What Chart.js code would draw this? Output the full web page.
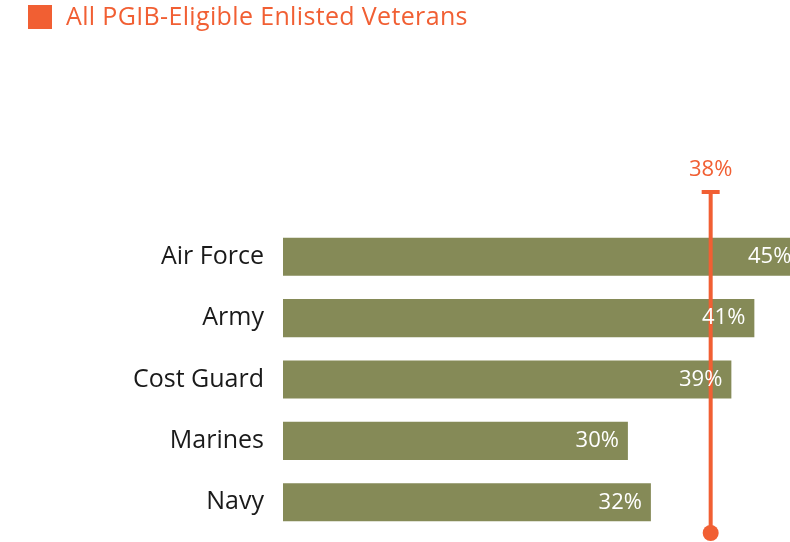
<!DOCTYPE html>
<html>
<head>
<meta charset="utf-8">
<script src="https://cdn.jsdelivr.net/npm/chart.js@4/dist/chart.umd.min.js"></script>
<style>
    html, body { margin: 0; padding: 0; background: #ffffff; }
    #wrap { width: 790px; height: 542px; }
</style>
</head>
<body>
<div id="wrap"><canvas id="branchChart" width="790" height="542"></canvas></div>
<script>
// --- Data ---
const branches = ['Air Force', 'Army', 'Cost Guard', 'Marines', 'Navy'];
const branchShares = [45, 41, 39, 30, 32];
const benchmarkPosition = [37.2];   // where the reference line sits on the axis
const benchmarkLabels = ['38%'];    // text printed above it
const seriesName = 'All PGIB-Eligible Enlisted Veterans';

const OLIVE = '#858a57';
const ORANGE = '#f15f33';
const FONT = '"Open Sans", Lato, sans-serif';

// Legend swatch + title in the top-left corner
const legendPlugin = {
    id: 'topLegend',
    afterDraw(chart) {
        const ctx = chart.ctx;
        ctx.save();
        ctx.fillStyle = ORANGE;
        ctx.fillRect(28, 5, 24, 24);
        ctx.font = '25px ' + FONT;
        ctx.letterSpacing = '0.35px';
        ctx.textBaseline = 'middle';
        ctx.textAlign = 'left';
        ctx.fillText(seriesName, 66, 18);
        ctx.restore();
    }
};

// Vertical benchmark line with cap, dot and label
const benchmarkPlugin = {
    id: 'benchmark',
    afterDatasetsDraw(chart) {
        const { ctx, chartArea, scales } = chart;
        ctx.save();
        benchmarkPosition.forEach((v, i) => {
            const x = scales.x.getPixelForValue(v);
            const top = chartArea.top - 34;
            const bottom = chartArea.bottom;
            ctx.strokeStyle = ORANGE;
            ctx.fillStyle = ORANGE;
            ctx.lineWidth = 4;
            ctx.beginPath();
            ctx.moveTo(x, top);
            ctx.lineTo(x, bottom);
            ctx.stroke();
            ctx.beginPath();
            ctx.moveTo(x - 9, top);
            ctx.lineTo(x + 9, top);
            ctx.stroke();
            ctx.beginPath();
            ctx.arc(x, bottom, 8, 0, Math.PI * 2);
            ctx.fill();
            ctx.font = '22px ' + FONT;
            ctx.textAlign = 'center';
            ctx.textBaseline = 'middle';
            ctx.fillText(benchmarkLabels[i], x, top - 22);
        });

        // value labels inside the bars
        const meta = chart.getDatasetMeta(0);
        ctx.fillStyle = '#ffffff';
        ctx.font = '22px ' + FONT;
        ctx.textAlign = 'right';
        ctx.textBaseline = 'middle';
        meta.data.forEach((bar, i) => {
            ctx.fillText(branchShares[i] + '%', bar.x - 9, bar.y);
        });
        ctx.restore();
    }
};

const ctx = document.getElementById('branchChart');
new Chart(ctx, {
    type: 'bar',
    data: {
        labels: branches,
        datasets: [{
            label: seriesName,
            data: branchShares,
            backgroundColor: OLIVE,
            borderWidth: 0,
            barPercentage: 0.62,
            categoryPercentage: 1
        }]
    },
    options: {
        indexAxis: 'y',
        responsive: false,
        animation: false,
        layout: { padding: { top: 226, left: 28, right: 0, bottom: 9 } },
        plugins: {
            legend: { display: false },
            tooltip: { enabled: false }
        },
        scales: {
            x: {
                display: false,
                min: 0,
                max: 44.1
            },
            y: {
                grid: { display: false, drawTicks: false },
                border: { display: false },
                ticks: {
                    color: '#1a1a1a',
                    padding: 19,
                    font: { size: 25, family: FONT }
                },
                afterFit(scale) {
                    scale.width = 255;
                    scale.paddingTop = 0;
                    scale.paddingBottom = 0;
                }
            }
        }
    },
    plugins: [legendPlugin, benchmarkPlugin]
});
</script>
</body>
</html>
